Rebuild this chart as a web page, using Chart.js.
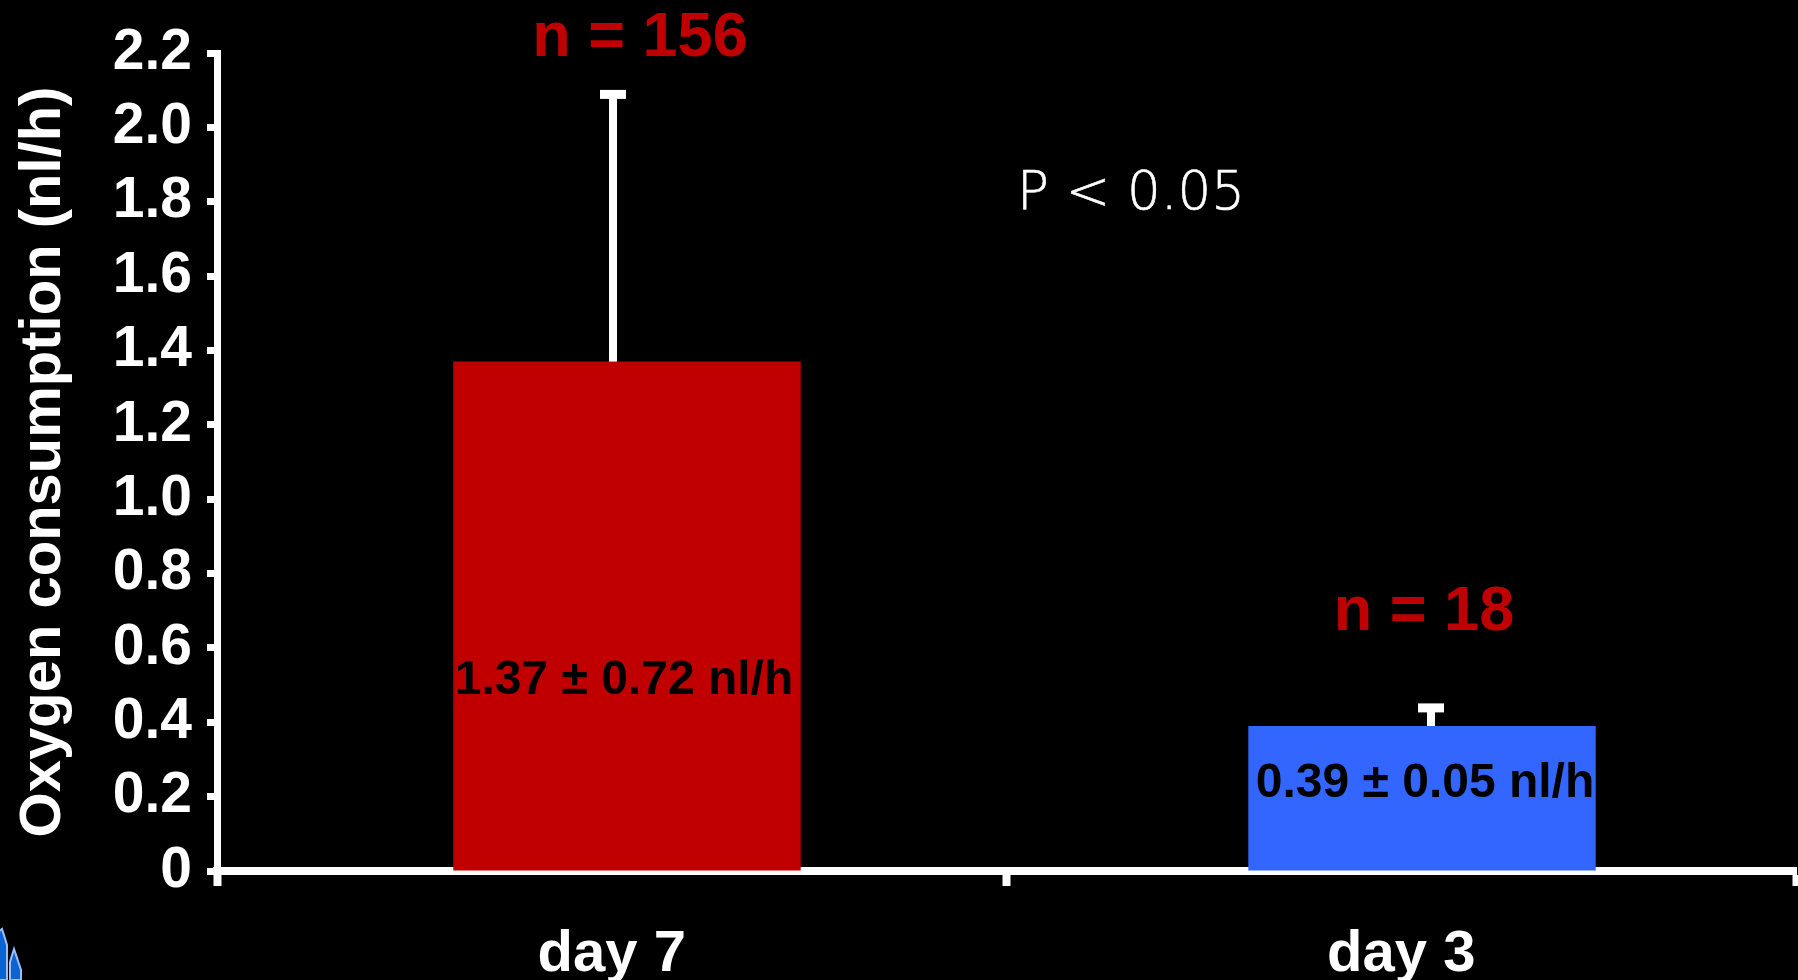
<!DOCTYPE html>
<html>
<head>
<meta charset="utf-8">
<script src="https://cdn.jsdelivr.net/npm/chart.js@4/dist/chart.umd.min.js"></script>
<style>
html,body{margin:0;padding:0;background:#000;overflow:hidden}
canvas{display:block}
</style>
</head>
<body>
<canvas id="c" width="1798" height="980"></canvas>
<script>
// ---- data ----
const categories = ['day 7', 'day 3'];
const means = [1.37, 0.39];
const errors = [0.72, 0.05];
const sampleSizes = [156, 18];
const barColors = ['#C00000', '#3366FF'];
const yTickValues = [0, 0.2, 0.4, 0.6, 0.8, 1.0, 1.2, 1.4, 1.6, 1.8, 2.0, 2.2];
const yTickLabels = ['0', '0.2', '0.4', '0.6', '0.8', '1.0', '1.2', '1.4', '1.6', '1.8', '2.0', '2.2'];
const yAxisTitle = 'Oxygen consumption (nl/h)';
const pValueText = 'P < 0.05';

const BOLD = "'Liberation Sans', Arial, sans-serif";

const annotationPlugin = {
  id: 'annot',
  afterDatasetsDraw(chart, args, opts) {
    const ctx = chart.ctx;
    const meta = chart.getDatasetMeta(0);
    const y = chart.scales.y;
    ctx.save();
    meta.data.forEach((el, i) => {
      const top = y.getPixelForValue(means[i] + errors[i]);
      const ex = el.x + opts.errShift[i];
      // error bar (upper only)
      ctx.fillStyle = '#fff';
      ctx.fillRect(ex - 4, top, 8, el.y - top);
      ctx.fillRect(ex - 13, top - 4, 26, 9);
      // n labels
      ctx.fillStyle = '#C00000';
      ctx.font = "bold 63px " + BOLD;
      ctx.textAlign = 'center';
      ctx.textBaseline = 'alphabetic';
      ctx.fillText('n = ' + sampleSizes[i], el.x + opts.nShift[i], top - opts.nGap[i]);
      // value labels inside bars
      ctx.fillStyle = '#000';
      ctx.font = "bold 48px " + BOLD;
      ctx.fillText(means[i].toFixed(2) + ' \u00B1 ' + errors[i].toFixed(2) + ' nl/h',
                   el.x + opts.vShift[i], y.getPixelForValue(opts.valueLabelAt[i]));
    });
    // P value
    ctx.fillStyle = '#fff';
    ctx.strokeStyle = '#fff';
    ctx.lineWidth = 0.6;
    ctx.font = "200 53px 'DejaVu Sans', sans-serif";
    ctx.textAlign = 'center';
    ctx.fillText(pValueText, opts.pX, opts.pY);
    ctx.strokeText(pValueText, opts.pX, opts.pY);
    ctx.restore();
  },
  afterDraw(chart) {
    // decorative fragment in the bottom-left corner
    const ctx = chart.ctx;
    ctx.save();
    ctx.fillStyle = '#0b64d0';
    ctx.strokeStyle = '#9bbcff';
    ctx.lineWidth = 2;
    ctx.beginPath();
    ctx.moveTo(-2, 980); ctx.lineTo(-2, 932); ctx.lineTo(2, 929); ctx.lineTo(7, 945);
    ctx.lineTo(7, 980); ctx.closePath(); ctx.fill(); ctx.stroke();
    ctx.beginPath();
    ctx.moveTo(10, 980); ctx.lineTo(10, 962); ctx.lineTo(14, 949); ctx.lineTo(21, 970);
    ctx.lineTo(21, 980); ctx.closePath(); ctx.fill(); ctx.stroke();
    ctx.restore();
  }
};

new Chart(document.getElementById('c'), {
  type: 'bar',
  data: {
    labels: categories,
    datasets: [{
      xAxisID: 'xb',
      data: means.map((m, i) => ({ x: i, y: m })),
      backgroundColor: barColors,
      borderWidth: 0,
      categoryPercentage: 1,
      barPercentage: 0.437
    }]
  },
  plugins: [annotationPlugin],
  options: {
    responsive: false,
    animation: false,
    devicePixelRatio: 1,
    layout: { padding: { left: 0, right: 2, top: 53, bottom: 0 } },
    plugins: {
      legend: { display: false },
      tooltip: { enabled: false },
      annot: {
        nGap: [38, 77],
        nShift: [13, 2],
        vShift: [-3, 3],
        errShift: [-14, 9],
        valueLabelAt: [0.475, 0.2],
        pX: 1131, pY: 209
      }
    },
    scales: {
      x: {
        type: 'category',
        offset: true,
        grid: {
          offset: true,
          drawOnChartArea: false,
          drawTicks: true,
          tickLength: 15,
          tickWidth: 8,
          color: '#fff'
        },
        border: { display: true, color: '#fff', width: 8 },
        ticks: {
          color: '#fff',
          padding: 34,
          font: { family: BOLD, weight: 'bold', size: 58 },
          maxRotation: 0
        },
        afterFit(s) { s.height = 109; }
      },
      xb: {
        type: 'linear',
        display: false,
        offset: false,
        min: -0.5157,
        max: 1.4704,
        afterBuildTicks(s) { s.ticks = means.map((m, i) => ({ value: i })); }
      },
      y: {
        min: 0,
        max: 2.2,
        afterBuildTicks(s) { s.ticks = yTickValues.map(v => ({ value: v })); },
        grid: {
          drawOnChartArea: false,
          drawTicks: true,
          tickLength: 10,
          tickWidth: 7,
          color: '#fff'
        },
        border: { display: true, color: '#fff', width: 7 },
        ticks: {
          color: '#fff',
          padding: 15,
          font: { family: BOLD, weight: 'bold', size: 57 },
          callback: (v, i) => yTickLabels[i]
        },
        title: {
          display: true,
          text: yAxisTitle,
          color: '#fff',
          font: { family: BOLD, weight: 'bold', size: 58, lineHeight: 1.2 },
          padding: { top: 9, bottom: 0 }
        },
        afterFit(s) { s.width = 217; }
      }
    }
  }
});
</script>
</body>
</html>
